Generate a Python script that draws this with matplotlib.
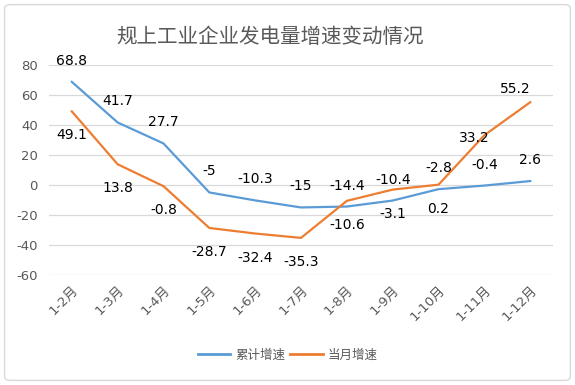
import matplotlib.pyplot as plt
from matplotlib.patches import FancyBboxPatch

plt.rcParams['font.family'] = ['DejaVu Sans', 'Noto Sans CJK SC']
plt.rcParams['axes.unicode_minus'] = False

months = ['1-2月', '1-3月', '1-4月', '1-5月', '1-6月', '1-7月',
          '1-8月', '1-9月', '1-10月', '1-11月', '1-12月']
cum_growth = [68.8, 41.7, 27.7, -5, -10.3, -15, -14.4, -10.4, -2.8, -0.4, 2.6]
month_growth = [49.1, 13.8, -0.8, -28.7, -32.4, -35.3, -10.6, -3.1, 0.2, 33.2, 55.2]

blue = '#5B9BD5'
orange = '#ED7D31'
gray = '#595959'

fig = plt.figure(figsize=(5.75, 3.85), dpi=100)
ax = fig.add_axes([0.085, 0.286, 0.877, 0.545])

x = list(range(len(months)))
ax.plot(x, cum_growth, color=blue, lw=1.6, label='累计增速')
ax.plot(x, month_growth, color=orange, lw=1.6, label='当月增速')

# data labels: cumulative above, monthly below (two moved by hand as in source)
for i, v in enumerate(cum_growth):
    ax.annotate(f'{v:g}', (i, v), xytext=(0, 21), textcoords='offset pixels',
                ha='center', va='center', fontsize=10, color='black')
orange_offsets = [(0, -24)] * 9 + [(-10, -3), (-15, 13)]
for i, v in enumerate(month_growth):
    dx, dy = orange_offsets[i]
    ax.annotate(f'{v:g}', (i, v), xytext=(dx, dy), textcoords='offset pixels',
                ha='center', va='center', fontsize=10, color='black')

ax.set_xlim(-0.5, len(months) - 0.5)
ax.set_ylim(-60, 80)
ax.set_yticks(range(-60, 81, 20))
ax.set_xticks(x)
ax.set_xticklabels(months, rotation=45, ha='right', rotation_mode='anchor')
ax.tick_params(axis='both', length=0, colors=gray, labelsize=9.5)
ax.tick_params(axis='x', pad=6)
ax.tick_params(axis='y', pad=8)
ax.grid(axis='y', color='#D9D9D9', lw=0.9)
ax.set_axisbelow(True)
for s in ax.spines.values():
    s.set_visible(False)

fig.text(0.47, 0.905, '规上工业企业发电量增速变动情况', ha='center', va='center',
         fontsize=14.8, color=gray, family=['Noto Sans CJK SC', 'DejaVu Sans'])

leg = fig.legend(loc='center', bbox_to_anchor=(0.5, 0.078), ncol=2, frameon=False,
                 handlelength=2.6, columnspacing=0.4, handletextpad=0.4,
                 prop={'family': ['Noto Sans CJK SC', 'DejaVu Sans'], 'size': 9})
for t in leg.get_texts():
    t.set_color(gray)
for h in leg.get_lines():
    h.set_linewidth(2)

border = FancyBboxPatch((0.008, 0.012), 0.984, 0.976, boxstyle='round,pad=0,rounding_size=0.01',
                        transform=fig.transFigure, fill=False, edgecolor='#D9D9D9', lw=1)
fig.patches.append(border)

fig.savefig('out.png', dpi=100)
